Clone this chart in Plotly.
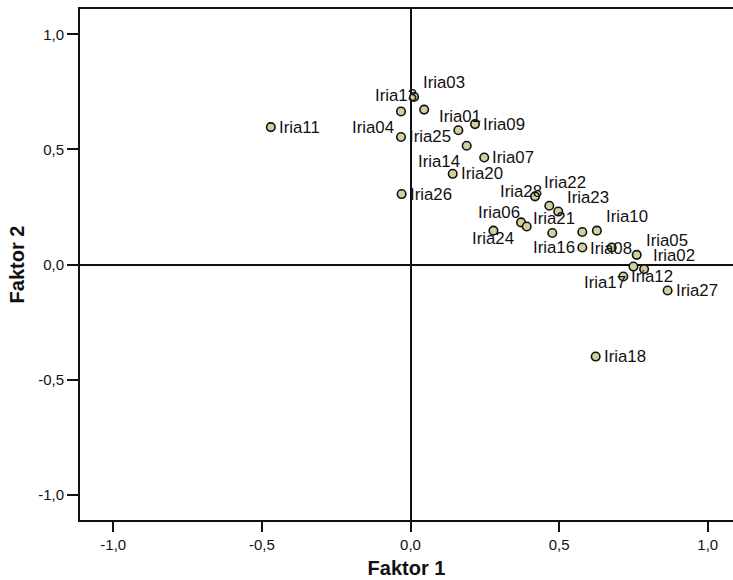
import plotly.graph_objects as go

# ---- data ----
names = ["Iria03", "Iria04", "Iria13", "Iria09", "Iria01", "Iria25", "Iria14",
         "Iria07", "Iria20", "Iria26", "Iria11", "Iria22", "Iria28", "Iria23",
         "Iria24", "Iria06", "Iria15", "Iria21", "Iria08", "Iria10", "Iria16",
         "Iria19", "Iria05", "Iria17", "Iria02", "Iria12", "Iria27", "Iria18"]
faktor1 = [0.012, -0.032, 0.046, 0.217, 0.161, -0.032, 0.189,
           0.248, 0.142, -0.030, -0.470, 0.419, 0.467, 0.497,
           0.372, 0.391, 0.279, 0.477, 0.578, 0.627, 0.578,
           0.677, 0.761, 0.750, 0.786, 0.716, 0.865, 0.623]
faktor2 = [0.728, 0.665, 0.673, 0.610, 0.583, 0.554, 0.516,
           0.465, 0.394, 0.306, 0.597, 0.296, 0.255, 0.230,
           0.183, 0.165, 0.147, 0.137, 0.141, 0.147, 0.074,
           0.074, 0.042, -0.009, -0.020, -0.052, -0.113, -0.400]
# where each point's label sits (None = label hidden)
label_pos = ["ur", "ll", "ul", "r", "uc", "r", "ll",
             "r", "r", "r", "r", "ur", "ul", "ur",
             "ll", "ul", None, "uc", "lr", "ur", "l",
             None, "ur", "ll", "ur", "r", "r", "r"]

tick_vals = [-1.0, -0.5, 0.0, 0.5, 1.0]
tick_text = ["-1,0", "-0,5", "0,0", "0,5", "1,0"]

# ---- label placement styles: (xanchor, xshift px, yshift px) ----
placements = {
    "r":  ("left", 8, 0),
    "ur": ("left", 9, 14),
    "lr": ("left", 8, -16),
    "l":  ("right", -7, 0),
    "ul": ("right", -7, 14.5),
    "ll": ("right", -7, -16),
    "uc": ("center", 2, 14),
}

FONT = "Liberation Sans, Arial, Helvetica, sans-serif"

fig = go.Figure()
fig.add_trace(go.Scatter(
    x=faktor1, y=faktor2, mode="markers", text=names,
    marker=dict(size=8.5, color="#D4CF9F", line=dict(color="#111111", width=1.6)),
    hoverinfo="text", showlegend=False,
))

annotations = []
for nm, xv, yv, pos in zip(names, faktor1, faktor2, label_pos):
    if pos is None:
        continue
    xa, xs, ys = placements[pos]
    annotations.append(dict(
        x=xv, y=yv, xref="x", yref="y", text=nm, showarrow=False,
        xanchor=xa, yanchor="middle", xshift=xs, yshift=ys,
        borderpad=0, borderwidth=0,
        font=dict(family=FONT, size=16.8, color="#111111"),
    ))

fig.update_layout(
    width=733, height=580,
    margin=dict(l=80, r=0, t=9, b=60),
    paper_bgcolor="white", plot_bgcolor="white",
    font=dict(family=FONT, color="#111111"),
    annotations=annotations,
    xaxis=dict(
        range=[-1.112, 1.085], tickvals=tick_vals, ticktext=tick_text,
        showgrid=False, zeroline=True, zerolinecolor="#111111", zerolinewidth=1.8,
        showline=True, linecolor="#111111", linewidth=2, mirror=True,
        ticks="outside", ticklen=10, tickwidth=2, tickcolor="#111111",
        tickfont=dict(family=FONT, size=15, color="#111111"),
        title=dict(text="<b>Faktor 1</b>", font=dict(family=FONT, size=20, color="#111111"), standoff=9),
        automargin=False,
    ),
    yaxis=dict(
        range=[-1.110, 1.110], tickvals=tick_vals, ticktext=tick_text,
        showgrid=False, zeroline=True, zerolinecolor="#111111", zerolinewidth=1.8,
        showline=True, linecolor="#111111", linewidth=2, mirror=False,
        ticks="outside", ticklen=11, tickwidth=2, tickcolor="#111111",
        tickfont=dict(family=FONT, size=15, color="#111111"),
        title=dict(text="<b>Faktor 2</b>", font=dict(family=FONT, size=20, color="#111111"), standoff=8),
        automargin=False,
    ),
)

fig.write_html("out.html")
